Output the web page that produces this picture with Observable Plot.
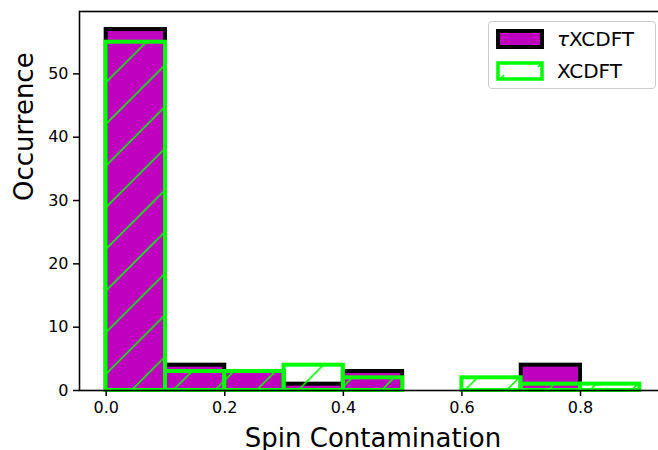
<!DOCTYPE html>
<html>
<head>
<meta charset="utf-8">
<script src="https://cdn.jsdelivr.net/npm/d3@7"></script>
<script src="https://cdn.jsdelivr.net/npm/@observablehq/plot@0.6"></script>
<style>
  html, body { margin: 0; padding: 0; background: #fff; overflow: hidden; }
  #wrap { position: relative; width: 658px; height: 450px; overflow: hidden; font-family: "DejaVu Sans", sans-serif; }
  #wrap > svg { max-width: none !important; display: block; }
  #wrap svg g[aria-label$="tick label"] { font-size: 16px; }
  #legend { position: absolute; left: 488px; top: 21px; width: 166px; height: 66px;
            border: 1px solid #cccccc; border-radius: 4px; background: rgba(255,255,255,0.8); }
  .entry { position: absolute; left: 7px; height: 20px; display: flex; align-items: center; }
  .entry span { margin-left: 13px; font-size: 20px; color: #000; line-height: 20px; }
  .entry i { font-style: italic; }
</style>
</head>
<body>
<div id="wrap"></div>
<script>
// ---- data ----
const binEdges = [0, 0.1, 0.2, 0.3, 0.4, 0.5, 0.6, 0.7, 0.8, 0.9];
const tauXCDFT = [57, 4, 3, 1, 3, 0, 0, 4, 0];
const XCDFT    = [55, 3, 3, 4, 2, 0, 2, 1, 1];
const seriesNames = ["\u03C4XCDFT", "XCDFT"];
const xTicks = [0, 0.2, 0.4, 0.6, 0.8];
const yTicks = [0, 10, 20, 30, 40, 50];
const xLabel = "Spin Contamination";
const yLabel = "Occurrence";

const toRows = (counts) => counts.map((c, i) => ({x1: binEdges[i], x2: binEdges[i + 1], count: c}));
const tauRows = toRows(tauXCDFT);
const xcRows = toRows(XCDFT);

const purple = "#bf00bf";
const lime = "#00ff00";

const chart = Plot.plot({
  width: 666,
  height: 450,
  marginLeft: 79,
  marginRight: 0,
  marginTop: 11,
  marginBottom: 60,
  style: {fontFamily: "DejaVu Sans, sans-serif", fontSize: "16px", color: "#000", background: "transparent", maxWidth: "none"},
  x: {domain: [-0.045, 0.945]},
  y: {domain: [0, 59.85]},
  marks: [
    Plot.rectY(tauRows, {x1: "x1", x2: "x2", y: "count", fill: purple, stroke: "black", strokeWidth: 4}),
    Plot.rectY(xcRows, {x1: "x1", x2: "x2", y: "count", fill: "url(#hatch)", stroke: lime, strokeWidth: 4}),
    Plot.frame({stroke: "black", strokeWidth: 1.6}),
    Plot.axisX({ticks: xTicks, tickFormat: d => d.toFixed(1), tickSize: 6, tickPadding: 5, fontSize: 16, label: null, strokeWidth: 1.5}),
    Plot.axisY({ticks: yTicks, tickSize: 6, tickPadding: 5, fontSize: 16, label: null, strokeWidth: 1.5}),
    Plot.text([xLabel], {frameAnchor: "bottom", dy: 48, fontSize: 26, lineAnchor: "middle"}),
    Plot.text([yLabel], {frameAnchor: "left", dx: -55, rotate: -90, fontSize: 26, lineAnchor: "middle"})
  ]
});
chart.style.maxWidth = "none";
d3.select(chart).selectAll('g[aria-label$="tick label"]').attr("font-size", 16).style("font-size", "16px");

// hatch pattern definition ("/" lines)
const S = 41.67, off = 21.67;
const defs = d3.select(chart).insert("defs", ":first-child");
const pat = defs.append("pattern").attr("id", "hatch").attr("patternUnits", "userSpaceOnUse")
  .attr("width", S).attr("height", S);
[off, off + S].forEach(c => {
  pat.append("line").attr("x1", -10).attr("y1", c + 10)
    .attr("x2", c + 10).attr("y2", -10)
    .attr("stroke", lime).attr("stroke-width", 1.6);
});

const wrap = document.getElementById("wrap");
wrap.appendChild(chart);

// legend
const legend = document.createElement("div");
legend.id = "legend";
const swatches = [
  `<svg width="48" height="20"><rect x="2" y="2" width="44" height="16" fill="${purple}" stroke="black" stroke-width="4"/></svg>`,
  `<svg width="48" height="20"><rect x="2" y="2" width="44" height="16" fill="white" stroke="${lime}" stroke-width="3.5"/><path d="M4,18 L8,14 M42,6 L46,2" stroke="${lime}" stroke-width="1.6"/></svg>`
];
const labelsHtml = [`<i>\u03C4</i>XCDFT`, seriesNames[1]];
seriesNames.forEach((name, i) => {
  const e = document.createElement("div");
  e.className = "entry";
  e.style.top = (i === 0 ? 7 : 39) + "px";
  e.innerHTML = swatches[i] + `<span>${labelsHtml[i]}</span>`;
  legend.appendChild(e);
});
wrap.appendChild(legend);
</script>
</body>
</html>
